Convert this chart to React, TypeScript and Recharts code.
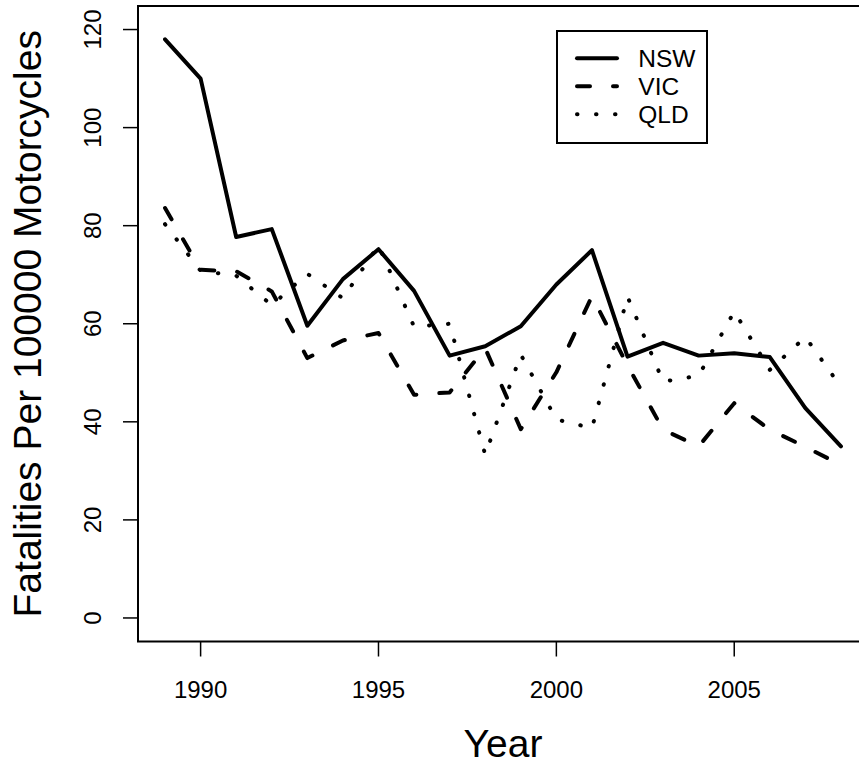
import React from 'react';
import { LineChart, Line, XAxis, YAxis, Legend, Label, ReferenceArea } from 'recharts';

// Motorcycle fatality rates by state, 1989-2008
const years = [
    1989, 1990, 1991, 1992, 1993, 1994, 1995, 1996, 1997, 1998,
    1999, 2000, 2001, 2002, 2003, 2004, 2005, 2006, 2007, 2008,
];
const nsw = [
    118.0, 110.0, 77.7, 79.3, 59.6, 69.1, 75.2, 66.7, 53.5, 55.4,
    59.5, 68.0, 75.0, 53.3, 56.1, 53.5, 54.0, 53.2, 42.8, 35.0,
];
const vic = [
    83.6, 71.0, 70.7, 66.6, 53.0, 56.6, 58.1, 45.5, 46.0, 55.0,
    38.5, 50.1, 65.6, 51.5, 38.4, 35.0, 43.8, 38.4, 34.9, 31.2,
];
const qld = [
    80.3, 70.8, 69.8, 63.8, 70.2, 65.2, 76.0, 59.4, 60.0, 33.3,
    53.7, 40.5, 38.7, 65.5, 48.2, 49.4, 62.5, 50.6, 57.3, 47.1,
];

const xTicks = [1990, 1995, 2000, 2005];
const yTicks = [0, 20, 40, 60, 80, 100, 120];

const FONT = '"Liberation Sans", Arial, Helvetica, sans-serif';

// base-graphics style 4% padding around the data range
const X_DOMAIN: [number, number] = [1988.24, 2008.76];
const Y_DOMAIN: [number, number] = [-4.8, 124.8];

const series = [
    { key: 'NSW', dash: undefined as string | undefined },
    { key: 'VIC', dash: '13 23' },
    { key: 'QLD', dash: '0.5 18.5' },
];

const data = years.map((year, i) => ({
    year,
    NSW: nsw[i],
    VIC: vic[i],
    QLD: qld[i],
}));

const XTick = (props: any) => (
    <text
        x={props.x}
        y={props.y + 41.5}
        textAnchor="middle"
        fontSize={24}
        fontFamily={FONT}
        fill="#000"
    >
        {props.payload.value}
    </text>
);

const YTick = (props: any) => {
    const bx = props.x - 22;
    return (
        <text
            x={bx}
            y={props.y}
            transform={`rotate(-90 ${bx} ${props.y})`}
            textAnchor="middle"
            fontSize={24}
            fontFamily={FONT}
            fill="#000"
        >
            {props.payload.value}
        </text>
    );
};

const XTitle = () => (
    <text x={503} y={757} textAnchor="middle" fontSize={39} fontFamily={FONT} fill="#000">
        Year
    </text>
);

const YTitle = () => (
    <text
        x={41}
        y={323.75}
        transform="rotate(-90 41 323.75)"
        textAnchor="middle"
        fontSize={39}
        fontFamily={FONT}
        fill="#000"
    >
        Fatalities Per 100000 Motorcycles
    </text>
);

const LegendBox = () => (
    <svg width={152} height={114} style={{ display: 'block' }}>
        <rect x={1} y={1} width={150} height={112} fill="#fff" stroke="#000" strokeWidth={2} />
        {series.map((s, i) => (
            <g key={s.key}>
                <line
                    x1={21}
                    x2={61}
                    y1={28.3 + i * 28}
                    y2={28.3 + i * 28}
                    stroke="#000"
                    strokeWidth={4}
                    strokeLinecap="round"
                    strokeDasharray={s.dash}
                />
                <text x={82.3} y={37 + i * 28} fontSize={24.5} fontFamily={FONT} fill="#000">
                    {s.key}
                </text>
            </g>
        ))}
    </svg>
);

export default function App() {
    return (
        <div
            style={{
                position: 'fixed',
                left: 0,
                top: 0,
                width: 859,
                height: 767,
                overflow: 'hidden',
                background: '#fff',
            }}
        >
            <LineChart
                width={880}
                height={767}
                data={data}
                margin={{ top: 6, right: 12, bottom: 0, left: 0 }}
            >
                <XAxis
                    dataKey="year"
                    type="number"
                    domain={X_DOMAIN}
                    ticks={xTicks}
                    interval={0}
                    allowDataOverflow
                    axisLine={false}
                    tickSize={15}
                    tickMargin={0}
                    tickLine={{ stroke: '#000', strokeWidth: 1.5 }}
                    tick={<XTick />}
                    height={125.5}
                >
                    <Label content={<XTitle />} />
                </XAxis>
                <YAxis
                    type="number"
                    domain={Y_DOMAIN}
                    ticks={yTicks}
                    interval={0}
                    allowDataOverflow
                    axisLine={false}
                    tickSize={15}
                    tickMargin={0}
                    tickLine={{ stroke: '#000', strokeWidth: 1.5 }}
                    tick={<YTick />}
                    width={138}
                >
                    <Label content={<YTitle />} />
                </YAxis>
                <ReferenceArea
                    x1={X_DOMAIN[0]}
                    x2={X_DOMAIN[1]}
                    y1={Y_DOMAIN[0]}
                    y2={Y_DOMAIN[1]}
                    fill="none"
                    fillOpacity={0}
                    stroke="#000"
                    strokeWidth={2}
                    ifOverflow="visible"
                />
                {series.map((s) => (
                    <Line
                        key={s.key}
                        type="linear"
                        dataKey={s.key}
                        stroke="#000"
                        strokeWidth={4}
                        strokeDasharray={s.dash}
                        strokeLinecap="round"
                        strokeLinejoin="round"
                        dot={false}
                        activeDot={false}
                        isAnimationActive={false}
                    />
                ))}
                <Legend
                    layout="vertical"
                    align="center"
                    verticalAlign="middle"
                    content={<LegendBox />}
                    wrapperStyle={{ left: 556, top: 29.7, width: 152, height: 114 }}
                />
            </LineChart>
        </div>
    );
}
